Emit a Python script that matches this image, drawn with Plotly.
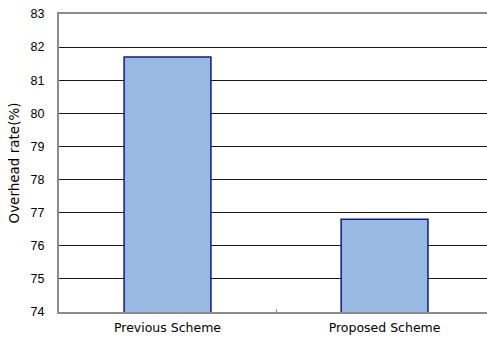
import plotly.graph_objects as go

# Overhead rate for each scheme (percent)
schemes = ["Previous Scheme", "Proposed Scheme"]
overhead_rate = [81.7, 76.8]
y_ticks = [74, 75, 76, 77, 78, 79, 80, 81, 82, 83]

fig = go.Figure(
    go.Bar(
        x=schemes,
        y=overhead_rate,
        width=0.4,
        marker=dict(color="#99B9E3", line=dict(color="#0D1A8E", width=1.5)),
    )
)

fig.update_layout(
    width=487,
    height=337,
    margin=dict(l=59, r=0, t=14, b=25),
    paper_bgcolor="white",
    plot_bgcolor="white",
    showlegend=False,
    font=dict(family="Liberation Sans, Arial, sans-serif", size=12, color="black"),
)

fig.update_xaxes(
    range=[-0.5, 1.472],
    showline=True,
    linecolor="#8c8c8c",
    linewidth=2,
    mirror=True,
    ticks="inside",
    tickson="boundaries",
    ticklen=3,
    tickcolor="#8c8c8c",
    showgrid=False,
    ticklabelstandoff=3,
    tickfont=dict(family="DejaVu Sans, sans-serif", size=12.5),
)

fig.update_yaxes(
    range=[74, 83],
    tickvals=y_ticks,
    showline=True,
    linecolor="#8c8c8c",
    linewidth=2,
    showgrid=True,
    gridcolor="#1a1a1a",
    gridwidth=1,
    ticks="",
    ticklabelstandoff=10,
    tickfont=dict(size=12.5),
    title=dict(text="Overhead rate(%)",
               font=dict(family="DejaVu Sans, sans-serif", size=13.5),
               standoff=8),
    zeroline=False,
)

fig.write_html("out.html")
